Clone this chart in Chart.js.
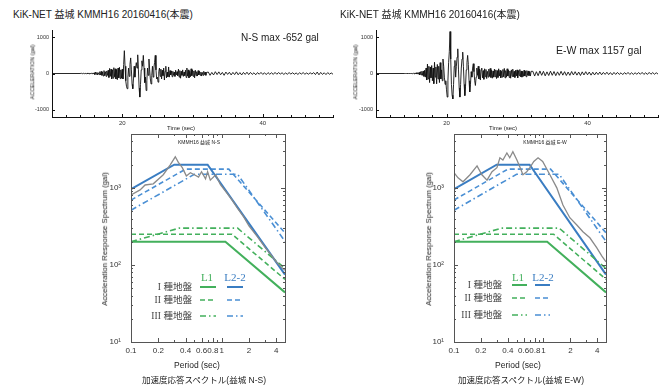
<!DOCTYPE html>
<html><head><meta charset="utf-8">
<script src="https://cdn.jsdelivr.net/npm/chart.js@4.4.1/dist/chart.umd.min.js"></script>
<style>
body{margin:0;background:#fff;}
#wrap{position:relative;width:666px;height:388px;overflow:hidden;font-family:"Liberation Sans","Noto Sans CJK JP",sans-serif;color:#222;}
canvas{position:absolute;}
.t{position:absolute;white-space:nowrap;line-height:1;}
.c{transform:translate(-50%,-50%);}
.r{transform:translate(-100%,-50%);}
.rot{transform:translate(-50%,-50%) rotate(-90deg);}
.ser{font-family:"Liberation Serif","DejaVu Serif",serif;}
</style></head>
<body><div id="wrap">
<canvas id="wNS" width="340" height="118" style="left:0;top:20px"></canvas>
<canvas id="wEW" width="333" height="118" style="left:333px;top:20px"></canvas>
<canvas id="sNS" width="205" height="235" style="left:90px;top:125px"></canvas>
<canvas id="sEW" width="205" height="235" style="left:413px;top:125px"></canvas>

<div class="t" style="left:13px;top:10px;font-size:10px">KiK-NET 益城 KMMH16 20160416(本震)</div>
<div class="t" style="left:340px;top:10px;font-size:10px">KiK-NET 益城 KMMH16 20160416(本震)</div>
<div class="t" style="left:241px;top:33px;font-size:10px">N-S max -652 gal</div>
<div class="t" style="left:556px;top:45px;font-size:10.5px">E-W max 1157 gal</div>
<div class="t rot" style="left:33px;top:72px;font-size:5.5px">ACCELERATION (gal)</div>
<div class="t rot" style="left:356px;top:72px;font-size:5.5px">ACCELERATION (gal)</div>
<div class="t c" style="left:181px;top:128px;font-size:6px">Time (sec)</div>
<div class="t c" style="left:503px;top:128px;font-size:6px">Time (sec)</div>

<div class="t c" style="left:199px;top:142px;font-size:5px">KMMH16 益城 N-S</div>
<div class="t c" style="left:545px;top:142px;font-size:5px">KMMH16 益城 E-W</div>
<div class="t rot" style="left:105px;top:239px;font-size:7.8px">Acceleration Response Spectrum (gal)</div>
<div class="t rot" style="left:429px;top:239px;font-size:7.8px">Acceleration Response Spectrum (gal)</div>
<div class="t c" style="left:197px;top:365px;font-size:8.5px">Period (sec)</div>
<div class="t c" style="left:518px;top:365px;font-size:8.5px">Period (sec)</div>
<div class="t c" style="left:204px;top:380px;font-size:8.5px">加速度応答スペクトル(益城 N-S)</div>
<div class="t c" style="left:521px;top:380px;font-size:8.5px">加速度応答スペクトル(益城 E-W)</div>

<div class="t c ser" style="left:207px;top:277px;font-size:11px;color:#43b05c">L1</div>
<div class="t c ser" style="left:235px;top:277px;font-size:11px;color:#3a7dc2">L2-2</div>
<div class="t r" style="left:192px;top:287px;font-size:9.5px;color:#444"><span class="ser">I</span> 種地盤</div>
<div class="t r" style="left:192px;top:300px;font-size:9.5px;color:#444"><span class="ser">II</span> 種地盤</div>
<div class="t r" style="left:192px;top:316px;font-size:9.5px;color:#444"><span class="ser">III</span> 種地盤</div>
<div class="t c ser" style="left:518px;top:277px;font-size:11px;color:#43b05c">L1</div>
<div class="t c ser" style="left:543px;top:277px;font-size:11px;color:#3a7dc2">L2-2</div>
<div class="t r" style="left:502px;top:285px;font-size:9.5px;color:#444"><span class="ser">I</span> 種地盤</div>
<div class="t r" style="left:502px;top:298px;font-size:9.5px;color:#444"><span class="ser">II</span> 種地盤</div>
<div class="t r" style="left:502px;top:315px;font-size:9.5px;color:#444"><span class="ser">III</span> 種地盤</div>
</div>
<script>
// ---------------- DATA ----------------
// Acceleration time histories (gal). Main part: t = 14.0 ... 32.0 s every 0.1 s; tail: 32.25 ... 50 s every 0.25 s
const nsMain = [
 0,0,5,-5,0,5,-5,0,5,-5,
 10,-10,15,-10,10,-15,10,-5,15,-10,
 20,-30,40,-20,30,-40,20,-30,50,-40,
 60,-50,40,-70,80,-60,50,-80,70,-50,
 90,-110,140,-80,120,-150,100,-130,160,-90,
 130,-150,110,-170,150,-120,170,-140,100,-130,
 120,-150,250,630,200,-200,-350,-420,-100,150,
 -80,250,430,100,-300,-420,-150,200,-100,150,
 300,150,515,100,-400,-650,-300,100,350,200,
 500,150,-250,-100,-470,-200,150,-50,400,100,
 -150,-290,-50,200,-100,150,300,500,100,-150,
 -100,-240,50,150,-80,120,-150,90,-60,150,
 -180,60,200,-120,40,-90,180,-100,80,-40,
 70,-90,60,-50,40,-80,90,-40,50,-60,
 120,-100,80,-130,60,-50,100,-80,40,-60,
 90,-110,150,-70,100,-120,60,-90,130,-60,
 100,-80,70,-120,90,-60,50,-70,80,-40,
 60,-50,40,-70,30,-50,60,-30,40,-50,
 30
];
const nsTail = [
 40,-50,30,-40,50,-30,45,-35,30,-50,40,-25,
 35,-40,30,-30,45,-35,25,-40,30,-25,35,-30,
 30,-25,20,-35,25,-20,30,-25,20,-30,25,-20,
 20,-25,30,-20,25,-15,20,-25,15,-20,25,-15,
 20,-20,15,-25,20,-15,25,-20,15,-20,20,-15,
 25,-30,40,-35,30,-25,20,-30,25,-20,15,-20
];
const ewMain = [
 0,0,0,0,0,0,0,0,0,0,
 0,5,-5,10,-10,15,-10,20,-15,20,
 -20,30,-40,50,-40,60,-50,70,-80,90,
 -100,150,-180,260,-150,200,-250,180,-120,220,
 -200,150,-280,310,-100,180,-285,250,-150,200,
 -250,300,-150,100,-200,400,200,-100,-300,-200,
 -450,-650,-200,300,600,1157,400,-300,-600,-700,
 -300,200,360,-100,200,450,680,100,-400,-650,
 -300,150,400,590,200,-300,-610,-350,100,300,
 500,250,-200,-510,-300,50,-100,150,270,50,
 -200,-330,-100,150,-50,200,-150,120,-180,100,
 150,-120,80,-160,130,-90,110,-140,60,-100,
 120,-80,140,-110,90,-130,70,-100,120,-90,
 100,-140,80,-110,130,-70,90,-120,60,-100,
 110,-90,140,-120,80,-100,130,-70,90,-110,
 70,-130,100,-80,120,-90,60,-110,90,-70,
 100,-120,80,-60,110,-90,70,-100,60,-80,
 90,-70,60,-90,80,-50,70,-60,50,-70,
 60
];
const ewTail = [
 60,-70,50,-60,70,-50,60,-65,45,-55,65,-50,
 55,-60,45,-50,60,-45,50,-55,40,-50,55,-40,
 50,-45,40,-55,45,-40,50,-35,40,-45,35,-40,
 35,-30,40,-35,30,-25,35,-30,25,-35,30,-25,
 30,-25,20,-30,25,-20,30,-25,20,-25,20,-20,
 25,-20,30,-25,20,-25,30,-20,25,-20,20,-15
];
const timeTickLabels = [20, 40];
const accelTicks = [-1000, 0, 1000];

// Observed response spectra (period s, Sa gal)
const nsPeriod = [0.10,0.126,0.143,0.176,0.227,0.271,0.308,0.333,0.368,0.408,0.452,0.50,0.556,0.60,0.664,0.70,0.75,0.86,0.97,1.15,1.3,1.5,1.75,2.0,2.5,3.0,3.5,4.0,4.5,5.0];
const nsSa     = [810,940,1090,1130,1480,1990,2530,2140,1830,1430,1570,1480,1380,1620,1310,1620,1260,1480,1100,850,700,540,420,320,230,170,135,110,95,85];
const ewPeriod = [0.10,0.111,0.126,0.151,0.181,0.205,0.234,0.266,0.302,0.326,0.352,0.39,0.42,0.455,0.505,0.545,0.59,0.65,0.705,0.78,0.87,0.98,1.18,1.41,1.65,1.97,2.36,2.76,3.3,3.95,4.5,5.0];
const ewSa     = [1570,1350,1200,1480,1930,1480,1260,1620,1830,2460,2300,2840,2460,2940,2300,1870,1480,1620,1830,2200,2460,2200,1480,1000,600,410,330,270,225,166,130,110];

// Design spectra corner points
const l1Type1T = [0.1,1.1,5],      l1Type1S = [200,200,44];
const l1Type2T = [0.1,1.3,5],      l1Type2S = [250,250,65];
const l1Type3T = [0.1,0.34,1.5,5], l1Type3S = [200,300,300,90];
const l22Type1T = [0.1,0.3,0.7,5], l22Type1S = [960,2000,2000,75];
const l22Type2T = [0.1,0.4,1.2,5], l22Type2S = [695,1750,1750,261];
const l22Type3T = [0.1,0.5,1.5,5], l22Type3S = [513,1500,1500,202];

const periodTickLabels = [0.1,0.2,0.4,0.6,0.8,1,2,4];
const periodMinorTicks = [0.3,0.5,0.7,0.9,3,5];
const saTickLabels = [10,100,1000];
const saMinorTicks = [20,30,40,50,60,70,80,90,200,300,400,500,600,700,800,900,2000,3000,4000,5000];

// ---------------- DRAWING ----------------
Chart.defaults.font.family = '"Liberation Sans","Noto Sans CJK JP",sans-serif';
Chart.defaults.color = '#333';

const GREEN = '#43b05c', BLUE = '#3a7dc2', BLUE2 = '#4a8fd4', GREY = '#8a8a8a';
const DASH = [5,3], DASHDOT = [6,3,1.5,3];

const frame = {
  id: 'frame',
  afterDatasetsDraw(chart, args, o) {
    const {ctx, chartArea: a, scales: {x, y}} = chart;
    ctx.save();
    ctx.strokeStyle = o.color; ctx.lineWidth = 1;
    if (o.box) ctx.strokeRect(Math.round(a.left) + 0.5, Math.round(a.top) + 0.5, Math.round(a.right - a.left), Math.round(a.bottom - a.top));
    ctx.beginPath();
    x.ticks.forEach(t => {
      const p = Math.round(x.getPixelForValue(t.value)) + 0.5;
      const L = o.majorX.includes(t.value) ? o.maj : o.min;
      ctx.moveTo(p, a.bottom); ctx.lineTo(p, a.bottom - L);
      if (o.box) { ctx.moveTo(p, a.top); ctx.lineTo(p, a.top + L); }
    });
    y.ticks.forEach(t => {
      const p = Math.round(y.getPixelForValue(t.value)) + 0.5;
      const L = o.majorY.includes(t.value) ? o.maj : o.min;
      ctx.moveTo(a.left, p); ctx.lineTo(a.left + L, p);
      if (o.box) { ctx.moveTo(a.right, p); ctx.lineTo(a.right - L, p); }
    });
    ctx.stroke();
    (o.legend || []).forEach(s => {
      ctx.beginPath(); ctx.setLineDash(s.dash); ctx.strokeStyle = s.color; ctx.lineWidth = s.w;
      ctx.moveTo(s.x1, s.y); ctx.lineTo(s.x2, s.y); ctx.stroke();
    });
    ctx.restore();
  }
};

function pts(xs, ys) { return xs.map((v, i) => ({x: v, y: ys[i]})); }
function wavePts(main, tail) {
  const p = [{x: 10, y: 0}];
  main.forEach((v, i) => p.push({x: +(14 + i * 0.1).toFixed(2), y: v}));
  tail.forEach((v, i) => p.push({x: 32 + (i + 1) * 0.25, y: v}));
  return p;
}
function fixX(H, b) { return s => { s.height = H - b; s.paddingLeft = 0; s.paddingRight = 0; }; }
function fixY(w) { return s => { s.width = w; s.paddingTop = 0; s.paddingBottom = 0; }; }

function waveChart(id, W, H, area, main, tail) {
  new Chart(document.getElementById(id), {
    type: 'line',
    data: {datasets: [{data: wavePts(main, tail), borderColor: '#111', borderWidth: 0.9, pointRadius: 0, tension: 0, fill: false}]},
    options: {
      responsive: false, animation: false,
      layout: {padding: {left: 0, top: area[1], right: W - area[2], bottom: 0}},
      plugins: {legend: {display: false}, tooltip: {enabled: false},
        frame: {color: '#111', box: false, majorX: timeTickLabels, majorY: accelTicks, maj: 3, min: 2}},
      scales: {
        x: {type: 'linear', min: 10, max: 50,
          afterFit: fixX(H, area[3]),
          afterBuildTicks: s => { const t = []; for (let v = 10; v <= 50; v += 2) t.push({value: v}); s.ticks = t; },
          grid: {display: false, drawTicks: false}, border: {display: true, color: '#111', width: 1},
          ticks: {autoSkip: false, maxRotation: 0, minRotation: 0, padding: 3, font: {size: 6}, color: '#333',
            callback: v => timeTickLabels.includes(v) ? String(v) : ''}},
        y: {type: 'linear', min: -1200, max: 1200,
          afterFit: fixY(area[0]),
          afterBuildTicks: s => { s.ticks = accelTicks.map(v => ({value: v})); },
          grid: {display: false, drawTicks: false}, border: {display: true, color: '#111', width: 1},
          ticks: {padding: 3, font: {size: 5.5}, color: '#333', callback: v => String(v)}}
      }
    },
    plugins: [frame]
  });
}

function specChart(id, W, H, area, gT, gS, legend) {
  const ds = [
    {data: pts(gT, gS), borderColor: GREY, borderWidth: 1.3},
    {data: pts(l1Type1T, l1Type1S), borderColor: GREEN, borderWidth: 2},
    {data: pts(l1Type2T, l1Type2S), borderColor: GREEN, borderWidth: 1.6, borderDash: DASH},
    {data: pts(l1Type3T, l1Type3S), borderColor: GREEN, borderWidth: 1.6, borderDash: DASHDOT},
    {data: pts(l22Type1T, l22Type1S), borderColor: BLUE, borderWidth: 2},
    {data: pts(l22Type2T, l22Type2S), borderColor: BLUE2, borderWidth: 1.6, borderDash: DASH},
    {data: pts(l22Type3T, l22Type3S), borderColor: BLUE2, borderWidth: 1.6, borderDash: DASHDOT}
  ].map(d => Object.assign({pointRadius: 0, tension: 0, fill: false}, d));
  new Chart(document.getElementById(id), {
    type: 'line',
    data: {datasets: ds},
    options: {
      responsive: false, animation: false,
      layout: {padding: {left: 0, top: area[1], right: W - area[2], bottom: 0}},
      plugins: {legend: {display: false}, tooltip: {enabled: false},
        frame: {color: '#555', box: true, majorX: periodTickLabels, majorY: saTickLabels, maj: 4, min: 2, legend: legend}},
      scales: {
        x: {type: 'logarithmic', min: 0.1, max: 5,
          afterFit: fixX(H, area[3]),
          afterBuildTicks: s => { s.ticks = periodTickLabels.concat(periodMinorTicks).sort((a, b) => a - b).map(v => ({value: v})); },
          grid: {display: false, drawTicks: false}, border: {display: false},
          ticks: {autoSkip: false, maxRotation: 0, minRotation: 0, padding: 4, font: {size: 8}, color: '#333',
            callback: v => periodTickLabels.includes(v) ? String(v) : ''}},
        y: {type: 'logarithmic', min: 10, max: 5000,
          afterFit: fixY(area[0]),
          afterBuildTicks: s => { s.ticks = saTickLabels.concat(saMinorTicks).sort((a, b) => a - b).map(v => ({value: v})); },
          grid: {display: false, drawTicks: false}, border: {display: false},
          ticks: {autoSkip: false, padding: 10, font: {size: 8}, color: '#333',
            callback: v => v === 10 ? '10\u00B9' : v === 100 ? '10\u00B2' : v === 1000 ? '10\u00B3' : ''}}
      }
    },
    plugins: [frame]
  });
}

function legendItems(gx1, gx2, bx1, bx2, rows) {
  return [
    {x1: gx1, x2: gx2, y: rows[0], color: GREEN, w: 2, dash: []},
    {x1: bx1, x2: bx2, y: rows[0], color: BLUE, w: 2, dash: []},
    {x1: gx1, x2: gx2, y: rows[1], color: GREEN, w: 1.6, dash: DASH},
    {x1: bx1, x2: bx2, y: rows[1], color: BLUE2, w: 1.6, dash: DASH},
    {x1: gx1, x2: gx2, y: rows[2], color: GREEN, w: 1.6, dash: DASHDOT},
    {x1: bx1, x2: bx2, y: rows[2], color: BLUE2, w: 1.6, dash: DASHDOT}
  ];
}

waveChart('wNS', 340, 118, [52, 10, 333, 97], nsMain, nsTail);
waveChart('wEW', 333, 118, [43, 10, 325, 97], ewMain, ewTail);
specChart('sNS', 205, 235, [41, 9, 195, 217], nsPeriod, nsSa, legendItems(110, 126, 137, 153, [162, 175, 191]));
specChart('sEW', 205, 235, [41, 9, 193, 217], ewPeriod, ewSa, legendItems(99, 114, 122, 137, [160, 173, 190]));
</script>
</body></html>
